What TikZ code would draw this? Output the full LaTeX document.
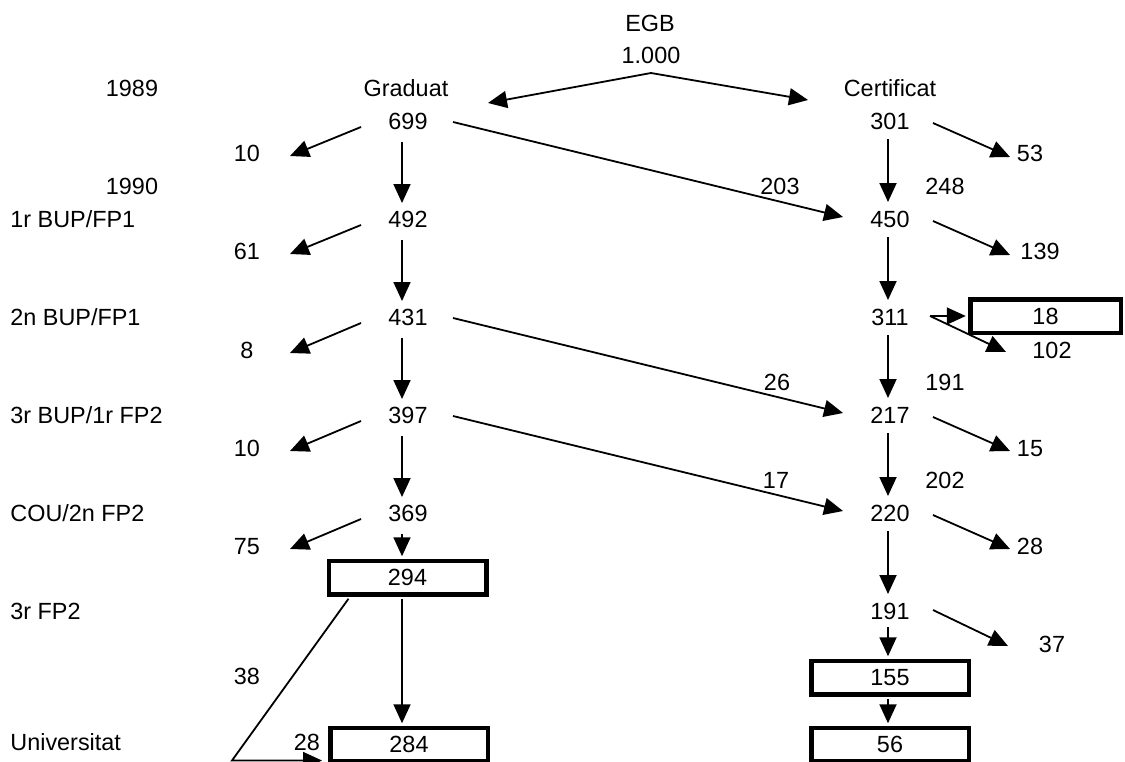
\documentclass[tikz,border=0pt]{standalone}
\usepackage{fontspec}
\setmainfont{Liberation Sans}
\usetikzlibrary{arrows.meta,calc}
\tikzset{
  lbl/.style={font=\fontsize{11.7}{14}\selectfont, inner sep=0pt, text height=8.4pt, text depth=0pt},
  rowlbl/.style={lbl, anchor=west},
  box/.style={lbl, draw, line width=2.25pt, minimum width=78.75pt, minimum height=16.75pt},
  arr/.style={line width=0.9pt, -{Triangle[length=9.5pt,width=8.5pt]}},
  ln/.style={line width=0.9pt}
}
\begin{document}
\begin{tikzpicture}[x=0.5pt,y=-0.5pt]
\useasboundingbox (0,0) rectangle (1125,761);
% top
\node[lbl] (egb) at (650,23) {EGB};
\node[lbl] (e1000) at (651,55) {1.000};
% years / row labels
\node[lbl] (y89) at (132,88) {1989};
\node[lbl] (y90) at (132,186) {1990};
\node[rowlbl] (r1) at (10,219) {1r BUP/FP1};
\node[rowlbl] (r2) at (10,317) {2n BUP/FP1};
\node[rowlbl] (r3) at (10,415) {3r BUP/1r FP2};
\node[rowlbl] (r4) at (10,513) {COU/2n FP2};
\node[rowlbl] (r5) at (10,611) {3r FP2};
\node[rowlbl] (r6) at (10,742) {Universitat};
% left column
\node[lbl] (grad) at (406,88) {Graduat};
\node[lbl] (g699) at (408,121) {699};
\node[lbl] (g492) at (408,219) {492};
\node[lbl] (g431) at (408,317) {431};
\node[lbl] (g397) at (408,415) {397};
\node[lbl] (g369) at (408,513) {369};
\node[box] (g294) at (407.5,577.5) {294};
\node[box] (g284) at (409,744.5) {284};
% right column
\node[lbl] (cert) at (890,88) {Certificat};
\node[lbl] (c301) at (890,121) {301};
\node[lbl] (c450) at (890,219) {450};
\node[lbl] (c311) at (890,317) {311};
\node[lbl] (c217) at (890,415) {217};
\node[lbl] (c220) at (890,513) {220};
\node[lbl] (c191) at (890,611) {191};
\node[box] (c155) at (890,677.5) {155};
\node[box] (c56) at (890,744.5) {56};
\node[box, minimum width=75.25pt] (b18) at (1045.5,316) {18};
% left outflow labels
\node[lbl] (l10a) at (247,153) {10};
\node[lbl] (l61) at (247,251) {61};
\node[lbl] (l8) at (247,350) {8};
\node[lbl] (l10b) at (247,448) {10};
\node[lbl] (l75) at (247,546) {75};
\node[lbl] (l38) at (247,676) {38};
\node[lbl] (l28a) at (307,742) {28};
% right outflow labels
\node[lbl] (r53) at (1030,153) {53};
\node[lbl] (r139) at (1040,251) {139};
\node[lbl] (r102) at (1052,350) {102};
\node[lbl] (r15) at (1030,448) {15};
\node[lbl] (r28) at (1030,546) {28};
\node[lbl] (r37) at (1052,644) {37};
% transfer labels
\node[lbl] (t203) at (780,186) {203};
\node[lbl] (t248) at (945,186) {248};
\node[lbl] (t26) at (777,382) {26};
\node[lbl] (t191) at (945,382) {191};
\node[lbl] (t17) at (776,480) {17};
\node[lbl] (t202) at (945,480) {202};
% EGB arrows
\draw[arr] ($(e1000)+(0,18)$) -- ($(grad)+(82,15)$);
\draw[arr] ($(e1000)+(0,18)$) -- ($(cert)+(-82,12)$);
% left vertical
\draw[arr] ($(g699)+(-6,21)$) -- ($(g492)+(-6,-16)$);
\draw[arr] ($(g492)+(-6,21)$) -- ($(g431)+(-6,-16)$);
\draw[arr] ($(g431)+(-6,21)$) -- ($(g397)+(-6,-16)$);
\draw[arr] ($(g397)+(-6,21)$) -- ($(g369)+(-6,-16)$);
\draw[arr] ($(g369)+(-6,21)$) -- ($(g294.north)+(-5.5,-2.25)$);
\draw[arr] ($(g294.south)+(-5.5,2.25)$) -- ($(g284.north)+(-7,-2.25)$);
\coordinate (bend) at (232,760.5);
\draw[arr] ($(g294.south west)+(22,2.25)$) -- (bend) -- ($(bend -| g284.west)+(-6,0)$);
% left outflows
\draw[arr] ($(g699)+(-47,6)$) -- ($(l10a)+(43,3)$);
\draw[arr] ($(g492)+(-47,6)$) -- ($(l61)+(43,3)$);
\draw[arr] ($(g431)+(-47,6)$) -- ($(l8)+(43,3)$);
\draw[arr] ($(g397)+(-47,6)$) -- ($(l10b)+(43,3)$);
\draw[arr] ($(g369)+(-47,6)$) -- ($(l75)+(43,3)$);
% right vertical
\draw[arr] ($(c301)+(-2,18)$) -- ($(c450)+(-2,-17)$);
\draw[arr] ($(c450)+(-2,18)$) -- ($(c311)+(-2,-17)$);
\draw[arr] ($(c311)+(-2,18)$) -- ($(c217)+(-2,-17)$);
\draw[arr] ($(c217)+(-2,18)$) -- ($(c220)+(-2,-17)$);
\draw[arr] ($(c220)+(-2,18)$) -- ($(c191)+(-2,-17)$);
\draw[arr] ($(c191)+(-2,16)$) -- ($(c155.north)+(-2,-2.25)$);
\draw[arr] ($(c155.south)+(-2,2.25)$) -- ($(c56.north)+(-2,-2.25)$);
% right outflows
\draw[arr] ($(c301)+(43,2)$) -- ($(r53)+(-20,4)$);
\draw[arr] ($(c450)+(43,2)$) -- ($(r139)+(-30,4)$);
\draw[arr] ($(c311)+(40,-1)$) -- ($(r102)+(-46,2)$);
\draw[arr] ($(c311)+(40,-1)$) -- ($(b18.west)+(-2.25,0)$);
\draw[arr] ($(c217)+(43,2)$) -- ($(r15)+(-20,3)$);
\draw[arr] ($(c220)+(43,2)$) -- ($(r28)+(-20,3)$);
\draw[arr] ($(c191)+(43,-1)$) -- ($(r37)+(-44,2)$);
% transfers
\draw[arr] ($(g699)+(45,1)$) -- ($(c450)+(-47,-2)$);
\draw[arr] ($(g431)+(45,1)$) -- ($(c217)+(-47,-2)$);
\draw[arr] ($(g397)+(45,1)$) -- ($(c220)+(-47,-2)$);
\end{tikzpicture}
\end{document}
